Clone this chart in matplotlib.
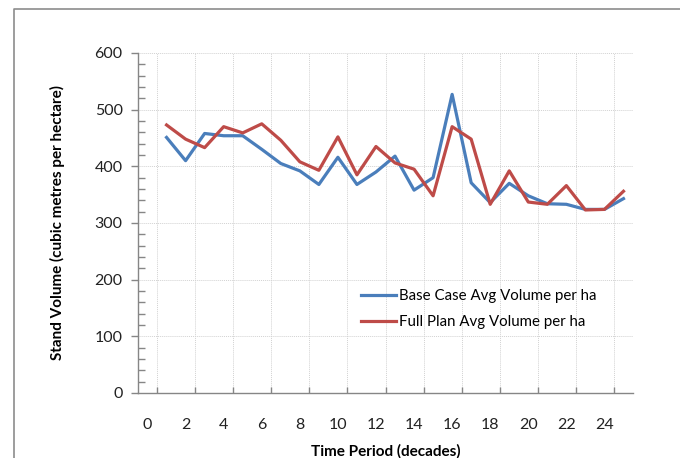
import matplotlib.pyplot as plt
from matplotlib.lines import Line2D
from matplotlib.ticker import MultipleLocator, FixedLocator

plt.rcParams['font.family'] = ['Lato', 'DejaVu Sans']

# decades 1..25
periods = list(range(1, 26))
base_case = [451, 410, 458, 454, 454, 430, 405, 392, 368, 416, 368, 390, 418,
             358, 380, 527, 371, 336, 370, 348, 334, 333, 324, 324, 343]
full_plan = [473, 448, 433, 470, 459, 475, 446, 408, 393, 452, 385, 435, 406,
             395, 348, 470, 448, 333, 392, 337, 333, 366, 323, 324, 356]
x_labels = list(range(0, 25, 2))

W, H = 680, 458
fig = plt.figure(figsize=(W / 100, H / 100), dpi=100)
ax = fig.add_axes([138 / W, 1 - 393 / H, (633 - 138) / W, (393 - 53) / H])

ax.plot(periods, base_case, color='#4A7EBB', lw=2.3, label='Base Case Avg Volume per ha',
        solid_joinstyle='round')
ax.plot(periods, full_plan, color='#BE4B48', lw=2.3, label='Full Plan Avg Volume per ha',
        solid_joinstyle='round')

ax.set_xlim(-0.5, 25.5)
ax.set_ylim(0, 600)

# y axis
ax.yaxis.set_major_locator(MultipleLocator(100))
ax.yaxis.set_minor_locator(MultipleLocator(20))
ax.tick_params(axis='y', which='major', direction='out', length=5, width=1,
               color='#868686', labelsize=11.5, pad=6, labelcolor='#222222')
ax.tick_params(axis='y', which='minor', direction='in', length=5, width=1, color='#868686')

# x axis: labels centred on categories, ticks between them
ax.xaxis.set_major_locator(FixedLocator(x_labels))
ax.xaxis.set_minor_locator(FixedLocator([k - 0.5 for k in range(1, 27, 2)]))
ax.tick_params(axis='x', which='major', length=0, labelsize=11.5, pad=18, labelcolor='#222222')
ax.tick_params(axis='x', which='minor', direction='in', length=4, width=1, color='#868686')

ax.grid(True, axis='y', which='major', color='#d2d2d2', ls=(0, (1, 1)), lw=0.7)
ax.grid(True, axis='x', which='minor', color='#d2d2d2', ls=(0, (1, 1)), lw=0.7)

for s in ['top', 'right']:
    ax.spines[s].set_visible(False)
for s in ['left', 'bottom']:
    ax.spines[s].set_color('#868686')
    ax.spines[s].set_linewidth(1)

ax.set_xlabel('Time Period (decades)', fontsize=11, fontweight='bold', labelpad=9)
ax.set_ylabel('Stand Volume (cubic metres per hectare)', fontsize=11, fontweight='bold',
              labelpad=21)

ax.legend(loc='upper left', bbox_to_anchor=(361 / W, 1 - 289 / H),
          bbox_transform=fig.transFigure, frameon=False, fontsize=10.8,
          handlelength=2.3, handletextpad=0.25, labelspacing=0.8,
          borderpad=0, borderaxespad=0)

# chart area border
fig.add_artist(Line2D([14 / W, 14 / W, 1], [0, 1 - 9 / H, 1 - 9 / H],
                      transform=fig.transFigure, color='#8c8c8c', lw=1.2))

fig.savefig('out.png', dpi=100)
